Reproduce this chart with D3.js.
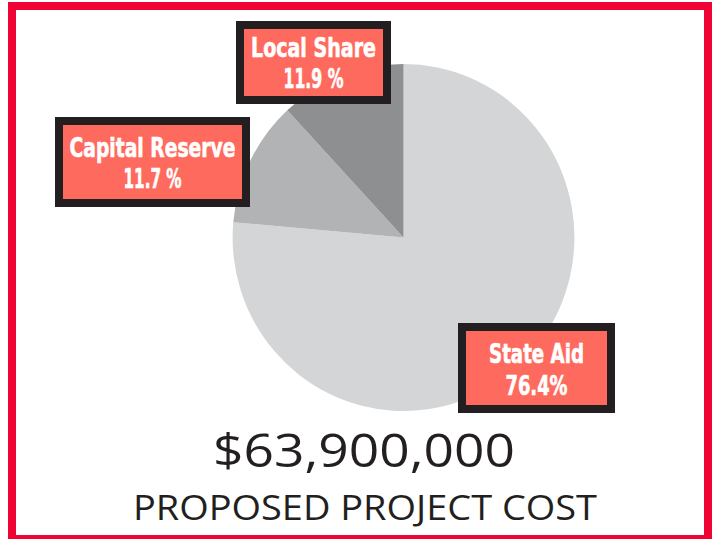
<!DOCTYPE html>
<html>
<head>
<meta charset="utf-8">
<script src="https://cdn.jsdelivr.net/npm/d3@7"></script>
<style>
  html, body { margin: 0; padding: 0; background: #fff; }
  svg { display: block; }
</style>
</head>
<body>
<svg id="chart" width="715" height="539"></svg>
<script>
// ---- data ----
const categories = ["State Aid", "Capital Reserve", "Local Share"];
const values = [76.4, 11.7, 11.9];
const valueLabels = ["76.4%", "11.7 %", "11.9 %"];
const totalLabel = "$63,900,000";
const subtitle = "PROPOSED PROJECT COST";

// ---- layout / styles (not data) ----
const sliceColors = ["#d4d5d6", "#b2b3b5", "#8e8f91"];
const boxLayout = [
  { x: 462, y: 327, w: 149, h: 82, l1: 363, l2: 395, w1: 95, w2: 62 },
  { x: 59,  y: 121, w: 187, h: 82, l1: 157, l2: 188, w1: 166, w2: 58 },
  { x: 240, y: 25,  w: 147, h: 75, l1: 57,  l2: 88,  w1: 125, w2: 60 }
];

const svg = d3.select("#chart");

// red frame
svg.append("rect")
  .attr("x", 12).attr("y", 6).attr("width", 696).attr("height", 533)
  .attr("fill", "none").attr("stroke", "#ef0533").attr("stroke-width", 8);

// pie
const pie = d3.pie().sort(null).startAngle(0).endAngle(2 * Math.PI).value(d => d);
const arc = d3.arc().innerRadius(0).outerRadius(173.5);
const g = svg.append("g").attr("transform", "translate(403.5,237.5) scale(0.985,1)");
g.selectAll("path")
  .data(pie(values))
  .join("path")
  .attr("d", arc)
  .attr("fill", (d, i) => sliceColors[i]);

// label boxes
const labelFont = "'DejaVu Sans Condensed', 'Liberation Sans Narrow', sans-serif";
categories.forEach((c, i) => {
  const b = boxLayout[i];
  const lg = svg.append("g");
  lg.append("rect")
    .attr("x", b.x).attr("y", b.y).attr("width", b.w).attr("height", b.h)
    .attr("fill", "#ff6a5e").attr("stroke", "#231f20").attr("stroke-width", 8);
  const cx = b.x + b.w / 2;
  [[c, b.l1, b.w1], [valueLabels[i], b.l2, b.w2]].forEach(([t, y, w]) => {
    lg.append("text")
      .attr("x", cx).attr("y", y)
      .attr("text-anchor", "middle")
      .attr("font-family", labelFont).attr("font-weight", "bold").attr("font-size", 27)
      .attr("fill", "#fff").attr("stroke", "#fff").attr("stroke-width", 0.6)
      .attr("textLength", w).attr("lengthAdjust", "spacingAndGlyphs")
      .text(t);
  });
});

// bottom texts
svg.append("text")
  .attr("x", 364).attr("y", 467)
  .attr("text-anchor", "middle")
  .attr("font-family", "'Open Sans', Inter, sans-serif").attr("font-weight", 400)
  .attr("font-size", 45).attr("fill", "#231f20")
  .attr("textLength", 302).attr("lengthAdjust", "spacingAndGlyphs")
  .text(totalLabel);
svg.append("text")
  .attr("x", 365).attr("y", 520)
  .attr("text-anchor", "middle")
  .attr("font-family", "'Open Sans', Inter, sans-serif").attr("font-weight", 400)
  .attr("font-size", 35).attr("fill", "#231f20")
  .attr("textLength", 464).attr("lengthAdjust", "spacingAndGlyphs")
  .text(subtitle);
</script>
</body>
</html>
